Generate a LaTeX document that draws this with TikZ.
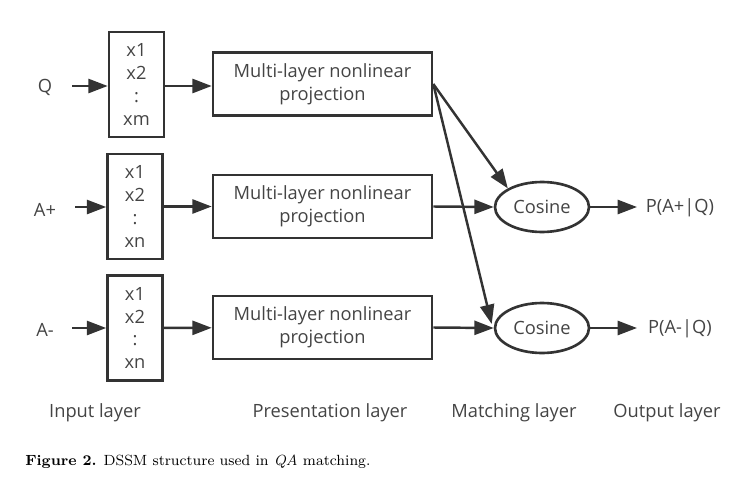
\documentclass[tikz,border=0pt]{standalone}
\usepackage{fontspec}
\setsansfont{Open Sans}
\usetikzlibrary{arrows.meta,shapes.geometric}
\definecolor{ink}{HTML}{333333}
\definecolor{txt}{HTML}{444444}
\begin{document}
\begin{tikzpicture}[x=0.02cm,y=-0.02cm,
  every node/.style={text=txt,font=\sffamily\fontsize{10.4}{13}\selectfont},
  inbox/.style={draw=ink,line width=1.5pt,minimum width=1.1cm,minimum height=2.1cm,align=center,inner sep=0pt},
  projbox/.style={draw=ink,line width=1.5pt,minimum width=4.38cm,minimum height=1.26cm,align=center,inner sep=0pt},
  cosnode/.style={draw=ink,line width=1.5pt,ellipse,minimum width=1.88cm,minimum height=1.0cm,inner sep=0pt},
  plain/.style={inner sep=0pt},
  conn/.style={draw=ink,line width=1.4pt,-{Triangle[length=11pt,width=8pt]}}
]
\useasboundingbox (0,0) rectangle (750,480);
% row 1
\node[plain] (q) at (45,87) {Q};
\node[inbox] (in1) at (136.5,84.5) {x1\\x2\\:\\xm};
\node[projbox] (p1) at (322.5,84) {Multi-layer nonlinear\\projection};
% row 2
\node[plain] (ap) at (45,210) {A+};
\node[inbox] (in2) at (135,206.5) {x1\\x2\\:\\xn};
\node[projbox] (p2) at (322.5,206.5) {Multi-layer nonlinear\\projection};
% row 3
\node[plain] (am) at (45,330) {A-};
\node[inbox] (in3) at (135,328) {x1\\x2\\:\\xn};
\node[projbox] (p3) at (322.5,327.5) {Multi-layer nonlinear\\projection};
% matching
\node[cosnode] (c1) at (542,207) {Cosine};
\node[cosnode] (c2) at (542,328) {Cosine};
\node[plain] (o1) at (680,208) {P(A+|Q)};
\node[plain] (o2) at (680,329) {P(A-|Q)};
% input arrows
\coordinate (qs) at (72,86);
\coordinate (aps) at (75,207);
\coordinate (ams) at (72,328);
\coordinate (oe1) at (637,207);
\coordinate (oe2) at (637,328);
\draw[conn] (qs) -- (in1.west |- qs);
\draw[conn] (aps) -- (in2.west |- aps);
\draw[conn] (ams) -- (in3.west |- ams);
\draw[conn] (in1.east |- 0,86) -- (p1.west |- 0,86);
\draw[conn] (in2) -- (p2);
\draw[conn] (in3) -- (p3);
\draw[conn] (p1.east) -- (c1.north west);
\draw[conn] (p1.east) -- ([shift={(-2,-4)}]c2.west);
\draw[conn] (p2.east) -- (c1.west);
\draw[conn] (p3.east) -- (c2.west);
\draw[conn] (c1.east) -- (oe1);
\draw[conn] (c2.east) -- (oe2);
% layer labels
\node[plain] (l1) at (95,413) {Input layer};
\node[plain] (l2) at (330,413) {Presentation layer};
\node[plain] (l3) at (514,413) {Matching layer};
\node[plain] (l4) at (667,413) {Output layer};
% caption
\node[plain,anchor=west,text=black,font=\rmfamily\fontsize{8.4}{10}\selectfont] (cap) at (25,462) {\textbf{Figure 2.} DSSM structure used in \textit{QA} matching.};
\end{tikzpicture}
\end{document}
